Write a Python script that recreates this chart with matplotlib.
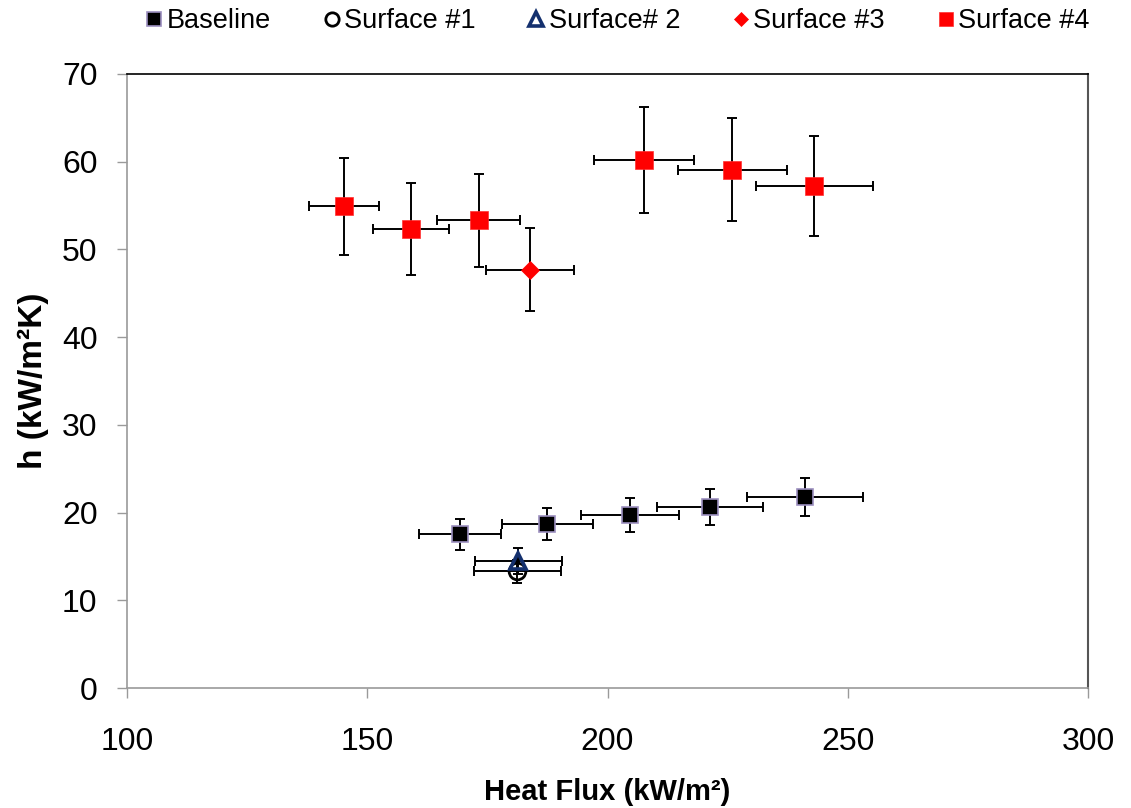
import matplotlib
matplotlib.use("Agg")
import matplotlib.pyplot as plt
import numpy as np

plt.rcParams['font.family'] = ['Liberation Sans', 'DejaVu Sans']

# Data (Heat flux kW/m^2, h kW/m^2K)
baseline_x = [169.3, 187.5, 204.7, 221.3, 241.1]
baseline_y = [17.5, 18.7, 19.7, 20.6, 21.8]
s1_x = [181.2]
s1_y = [13.3]
s2_x = [181.4]
s2_y = [14.5]
s3_x = [183.9]
s3_y = [47.7]
s4_x = [145.2, 159.1, 173.2, 207.6, 226.0, 243.0]
s4_y = [54.9, 52.3, 53.3, 60.2, 59.1, 57.2]
xerr_frac = 0.05
yerr_frac = 0.10

legend_labels = ["Baseline", "Surface #1", "Surface# 2", "Surface #3", "Surface #4"]
xticks = [100, 150, 200, 250, 300]
yticks = [0, 10, 20, 30, 40, 50, 60, 70]

fig = plt.figure(figsize=(11.31, 8.08), dpi=100)
ax = fig.add_axes([0.1123, 0.1485, 0.8497, 0.760])

styles = [
    dict(marker='s', ms=12, mfc='black', mec='#9c8fbf', mew=1.2),
    dict(marker='o', ms=12, mfc='none', mec='black', mew=2.0),
    dict(marker='^', ms=12, mfc='none', mec='#14306e', mew=2.6),
    dict(marker='D', ms=9.5, mfc='#ff0000', mec='#ff0000', mew=0.5),
    dict(marker='s', ms=13, mfc='#ff0000', mec='#ff3030', mew=0.5),
]
series = [(baseline_x, baseline_y), (s1_x, s1_y), (s2_x, s2_y), (s3_x, s3_y), (s4_x, s4_y)]

handles = []
for (xs, ys), st, lab in zip(series, styles, legend_labels):
    xs = np.array(xs); ys = np.array(ys)
    ax.errorbar(xs, ys, xerr=xs * xerr_frac, yerr=ys * yerr_frac, fmt='none',
                ecolor='black', elinewidth=1.4, capsize=3.5, capthick=1.4, zorder=2)
    h, = ax.plot(xs, ys, linestyle='none', zorder=3, label=lab, **st)
    handles.append(h)

ax.set_xlim(100, 300)
ax.set_ylim(0, 70)
ax.set_xticks(xticks)
ax.set_yticks(yticks)
ax.tick_params(axis='both', which='major', labelsize=23, direction='out',
               length=7.2, width=1.0, color='#9a9a9a')
ax.tick_params(axis='y', pad=14)
ax.tick_params(axis='x', pad=21)
for side in ['left', 'bottom']:
    ax.spines[side].set_color('#9a9a9a')
    ax.spines[side].set_linewidth(1.2)
ax.spines['top'].set_color('black')
ax.spines['top'].set_linewidth(1.2)
ax.spines['right'].set_color('#555555')
ax.spines['right'].set_linewidth(1.5)

ax.set_xlabel("Heat Flux (kW/m²)", fontsize=21, fontweight='bold', labelpad=15)
ax.set_ylabel("h (kW/m²K)", fontsize=24, fontweight='bold', labelpad=9)

fig.legend(handles=handles, labels=legend_labels, loc='upper center',
           bbox_to_anchor=(0.545, 1.02), ncol=5, frameon=False, fontsize=19.5,
           handletextpad=0.05, columnspacing=1.85, handlelength=0.8, markerscale=0.8)

fig.savefig("out.png", dpi=100)
